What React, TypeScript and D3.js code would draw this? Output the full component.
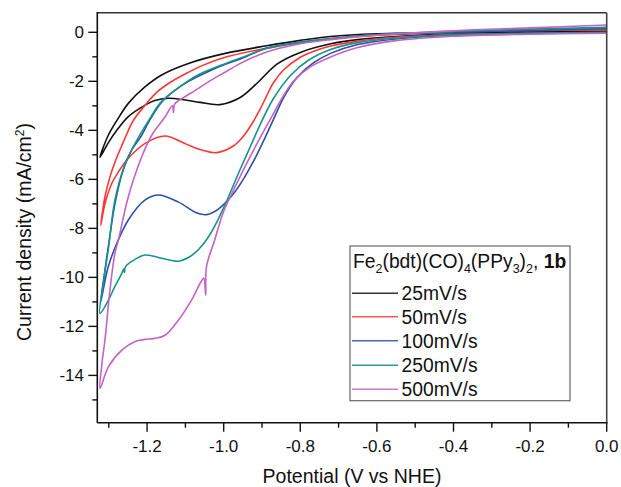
import React from "react";
import * as d3 from "d3";

// ---------- data (potential V vs NHE, current density mA/cm^2) ----------
const potentialTicks = [-1.2, -1.0, -0.8, -0.6, -0.4, -0.2, 0.0];
const potentialMinorTicks = [-1.3, -1.1, -0.9, -0.7, -0.5, -0.3, -0.1];
const currentTicks = [0, -2, -4, -6, -8, -10, -12, -14];
const currentMinorTicks = [-1, -3, -5, -7, -9, -11, -13, -15];
const scanRates = ["25mV/s", "50mV/s", "100mV/s", "250mV/s", "500mV/s"];

const cv25Cathodic: [number, number][] = [
  [0, 0.0], [-0.2, -0.02], [-0.4, -0.07], [-0.55, -0.17], [-0.65, -0.3], [-0.72, -0.47],
  [-0.8, -0.82], [-0.861, -1.3], [-0.913, -2.08], [-0.957, -2.66], [-1.01, -2.95],
  [-1.062, -2.86], [-1.1, -2.76], [-1.144, -2.69], [-1.18, -2.78], [-1.205, -2.97],
  [-1.249, -3.44], [-1.279, -4.0], [-1.301, -4.5], [-1.323, -5.1],
];
const cv25Anodic: [number, number][] = [
  [-1.323, -5.1], [-1.301, -4.19], [-1.275, -3.5], [-1.249, -2.9], [-1.205, -2.22],
  [-1.162, -1.74], [-1.092, -1.27], [-0.996, -0.86], [-0.888, -0.55], [-0.8, -0.33],
  [-0.721, -0.17], [-0.6, -0.06], [-0.4, 0.0], [-0.2, 0.03], [0, 0.05],
];

const cv50Cathodic: [number, number][] = [
  [0, -0.02], [-0.2, -0.04], [-0.4, -0.1], [-0.55, -0.2], [-0.65, -0.36], [-0.721, -0.56],
  [-0.77, -0.8], [-0.8, -1.02], [-0.844, -1.54], [-0.871, -2.08], [-0.888, -2.6],
  [-0.906, -3.17], [-0.927, -3.75], [-0.949, -4.25], [-0.975, -4.64], [-1.018, -4.91],
  [-1.062, -4.78], [-1.1, -4.55], [-1.153, -4.23], [-1.205, -4.53], [-1.249, -5.14],
  [-1.275, -5.7], [-1.292, -6.16], [-1.31, -7.0], [-1.321, -7.87],
];
const cv50Anodic: [number, number][] = [
  [-1.321, -7.87], [-1.31, -6.71], [-1.297, -5.9], [-1.284, -5.3], [-1.266, -4.62],
  [-1.253, -4.15], [-1.236, -3.6], [-1.205, -2.97], [-1.175, -2.45], [-1.14, -2.05],
  [-1.092, -1.63], [-1.062, -1.4], [-0.996, -1.02], [-0.888, -0.65], [-0.8, -0.42],
  [-0.721, -0.25], [-0.6, -0.1], [-0.4, 0.02], [-0.2, 0.07], [0, 0.1],
];

const cv100Cathodic: [number, number][] = [
  [0, -0.02], [-0.2, -0.05], [-0.4, -0.12], [-0.55, -0.27], [-0.65, -0.5], [-0.721, -0.86],
  [-0.766, -1.25], [-0.809, -1.85], [-0.843, -2.65], [-0.87, -3.55], [-0.895, -4.4],
  [-0.92, -5.2], [-0.945, -5.9], [-0.97, -6.5], [-0.995, -6.95], [-1.02, -7.28],
  [-1.045, -7.44], [-1.07, -7.37], [-1.118, -6.93], [-1.17, -6.64], [-1.205, -6.84],
  [-1.249, -7.66], [-1.284, -8.8], [-1.302, -9.6], [-1.321, -11.0],
];
const cv100Anodic: [number, number][] = [
  [-1.321, -11.0], [-1.31, -9.7], [-1.298, -8.4], [-1.284, -7.0], [-1.265, -5.75],
  [-1.24, -4.8], [-1.218, -4.3], [-1.19, -3.5], [-1.162, -2.85], [-1.13, -2.4],
  [-1.092, -2.0], [-1.04, -1.6], [-0.996, -1.3], [-0.95, -1.05], [-0.888, -0.64],
  [-0.8, -0.42], [-0.721, -0.27], [-0.6, -0.12], [-0.4, 0.0], [-0.2, 0.08], [0, 0.15],
];

const cv250Cathodic: [number, number][] = [
  [0, 0.0], [-0.2, -0.04], [-0.4, -0.1], [-0.55, -0.24], [-0.65, -0.42], [-0.721, -0.7],
  [-0.78, -1.15], [-0.825, -1.75], [-0.87, -2.7], [-0.9, -3.6], [-0.93, -4.65],
  [-0.96, -5.7], [-0.99, -6.8], [-1.015, -7.65], [-1.04, -8.35], [-1.065, -8.85],
  [-1.09, -9.17], [-1.118, -9.34], [-1.162, -9.22], [-1.205, -9.09], [-1.24, -9.35],
  [-1.257, -9.58], [-1.259, -9.8], [-1.261, -9.66], [-1.266, -9.84], [-1.285, -10.4],
  [-1.301, -10.93], [-1.323, -11.47],
];
const cv250Anodic: [number, number][] = [
  [-1.323, -11.47], [-1.312, -10.0], [-1.301, -8.82], [-1.284, -6.85], [-1.257, -5.35],
  [-1.223, -4.3], [-1.19, -3.45], [-1.162, -2.82], [-1.092, -1.97], [-1.062, -1.7],
  [-0.996, -1.28], [-0.95, -1.02], [-0.888, -0.66], [-0.8, -0.4], [-0.721, -0.26],
  [-0.6, -0.1], [-0.4, 0.04], [-0.2, 0.13], [0, 0.2],
];

const cv500Cathodic: [number, number][] = [
  [0, -0.04], [-0.2, -0.08], [-0.4, -0.16], [-0.55, -0.34], [-0.65, -0.62], [-0.72, -1.0],
  [-0.775, -1.42], [-0.818, -2.0], [-0.85, -2.75], [-0.88, -3.6], [-0.91, -4.45],
  [-0.94, -5.35], [-0.97, -6.3], [-1.0, -7.3], [-1.023, -8.45], [-1.045, -9.57],
  [-1.047, -10.72], [-1.052, -10.03], [-1.06, -10.2], [-1.084, -10.93], [-1.118, -11.74],
  [-1.153, -12.36], [-1.179, -12.49], [-1.205, -12.53], [-1.231, -12.62], [-1.266, -12.97],
  [-1.301, -13.65], [-1.323, -14.53],
];
const cv500Anodic: [number, number][] = [
  [-1.323, -14.53], [-1.317, -13.4], [-1.31, -12.56], [-1.297, -10.52], [-1.284, -9.02],
  [-1.275, -8.48], [-1.249, -6.71], [-1.214, -5.08], [-1.186, -4.15], [-1.155, -3.5],
  [-1.134, -3.0], [-1.131, -3.27], [-1.128, -2.93], [-1.1, -2.62], [-1.075, -2.38],
  [-1.04, -2.02], [-1.0, -1.66], [-0.96, -1.3], [-0.92, -1.0], [-0.888, -0.8],
  [-0.8, -0.47], [-0.721, -0.3], [-0.6, -0.12], [-0.4, 0.06], [-0.2, 0.18], [0, 0.3],
];

const cathodicScans = [cv25Cathodic, cv50Cathodic, cv100Cathodic, cv250Cathodic, cv500Cathodic];
const anodicScans = [cv25Anodic, cv50Anodic, cv100Anodic, cv250Anodic, cv500Anodic];

// ---------- styling ----------
const W = 621;
const H = 487;
const plotLeft = 97.3;
const plotRight = 606.7;
const plotTop = 12.7;
const plotBottom = 422.7;
const seriesColors = ["#111111", "#ff3535", "#2f4fa8", "#16948a", "#c463c4"];
const legendColors = ["#333333", "#ff5a5a", "#4a68b5", "#2a9d8e", "#cc77cc"];
const FONT = "Arial, 'Liberation Sans', Helvetica, sans-serif";

export default function App() {
  const x = d3.scaleLinear().domain([-1.33, 0]).range([plotLeft, plotRight]);
  const y = d3.scaleLinear().domain([-15.93, 0.8]).range([plotBottom, plotTop]);
  const line = d3
    .line<[number, number]>()
    .x((d) => x(d[0]))
    .y((d) => y(d[1]))
    .curve(d3.curveCatmullRom.alpha(0.5));

  const majorLen = 9;
  const minorLen = 5;
  const legendRows = [293.3, 316.7, 340.7, 365.2, 389.3];

  return (
    <svg
      width={W}
      height={H}
      viewBox={`0 0 ${W} ${H}`}
      style={{ position: "absolute", left: 0, top: 0, background: "#fff" }}
      fontFamily={FONT}
    >
      <rect x={0} y={0} width={W} height={H} fill="#fff" />
      <defs>
        <clipPath id="plotClip">
          <rect x={plotLeft} y={plotTop} width={plotRight - plotLeft} height={plotBottom - plotTop} />
        </clipPath>
      </defs>

      {/* curves */}
      <g clipPath="url(#plotClip)" fill="none" strokeWidth={1.6} strokeLinejoin="round">
        {cathodicScans.map((c, i) => (
          <path key={i} d={line([...c, ...anodicScans[i].slice(1)]) || ""} stroke={seriesColors[i]} />
        ))}
      </g>

      {/* frame */}
      <g stroke="#111" strokeWidth={1.6} fill="none">
        <line x1={plotLeft} y1={plotTop} x2={plotRight} y2={plotTop} stroke="#333" />
        <line x1={plotRight} y1={plotTop} x2={plotRight} y2={plotBottom} stroke="#444" />
        <line x1={plotLeft} y1={plotTop - 0.8} x2={plotLeft} y2={plotBottom} />
        <line x1={plotLeft} y1={plotBottom} x2={plotRight + 0.8} y2={plotBottom} />
      </g>

      {/* ticks */}
      <g stroke="#111" strokeWidth={1.4}>
        {potentialTicks.map((t) => (
          <line key={t} x1={x(t)} x2={x(t)} y1={plotBottom} y2={plotBottom + majorLen} />
        ))}
        {potentialMinorTicks.map((t) => (
          <line key={t} x1={x(t)} x2={x(t)} y1={plotBottom} y2={plotBottom + minorLen} />
        ))}
        {currentTicks.map((t) => (
          <line key={t} x1={plotLeft - majorLen} x2={plotLeft} y1={y(t)} y2={y(t)} />
        ))}
        {currentMinorTicks.map((t) => (
          <line key={t} x1={plotLeft - minorLen} x2={plotLeft} y1={y(t)} y2={y(t)} />
        ))}
      </g>

      <g fontSize={17} fill="#111">
        {potentialTicks.map((t) => (
          <text key={t} x={x(t)} y={451.5} textAnchor="middle">
            {d3.format(".1f")(t).replace("−", "-")}
          </text>
        ))}
        {currentTicks.map((t) => (
          <text key={t} x={84} y={y(t) + 6} textAnchor="end">
            {String(t)}
          </text>
        ))}
      </g>

      {/* axis titles */}
      <text x={352} y={483} textAnchor="middle" fontSize={19.5} fill="#111">
        Potential (V vs NHE)
      </text>
      <text
        transform={`translate(31, 232) rotate(-90)`}
        textAnchor="middle"
        fontSize={19.5}
        fill="#111"
      >
        Current density (mA/cm
        <tspan dy={-7} fontSize={12}>2</tspan>
        <tspan dy={7}>)</tspan>
      </text>

      {/* legend */}
      <rect x={350} y={246} width={220} height={154.7} fill="#fff" stroke="#666" strokeWidth={1.2} />
      <text x={353} y={268} fontSize={19.3} fill="#111">
        Fe
        <tspan dy={5} fontSize={12.5}>2</tspan>
        <tspan dy={-5}>(bdt)(CO)</tspan>
        <tspan dy={5} fontSize={12.5}>4</tspan>
        <tspan dy={-5}>(PPy</tspan>
        <tspan dy={5} fontSize={12.5}>3</tspan>
        <tspan dy={-5}>)</tspan>
        <tspan dy={5} fontSize={12.5}>2</tspan>
        <tspan dy={-5}>, </tspan>
        <tspan fontWeight="bold">1b</tspan>
      </text>
      {scanRates.map((label, i) => (
        <g key={label}>
          <line
            x1={352}
            x2={398}
            y1={legendRows[i]}
            y2={legendRows[i]}
            stroke={legendColors[i]}
            strokeWidth={1.6}
          />
          <text x={401.5} y={legendRows[i] + 6.8} fontSize={19.3} fill="#111">
            {label}
          </text>
        </g>
      ))}
    </svg>
  );
}
